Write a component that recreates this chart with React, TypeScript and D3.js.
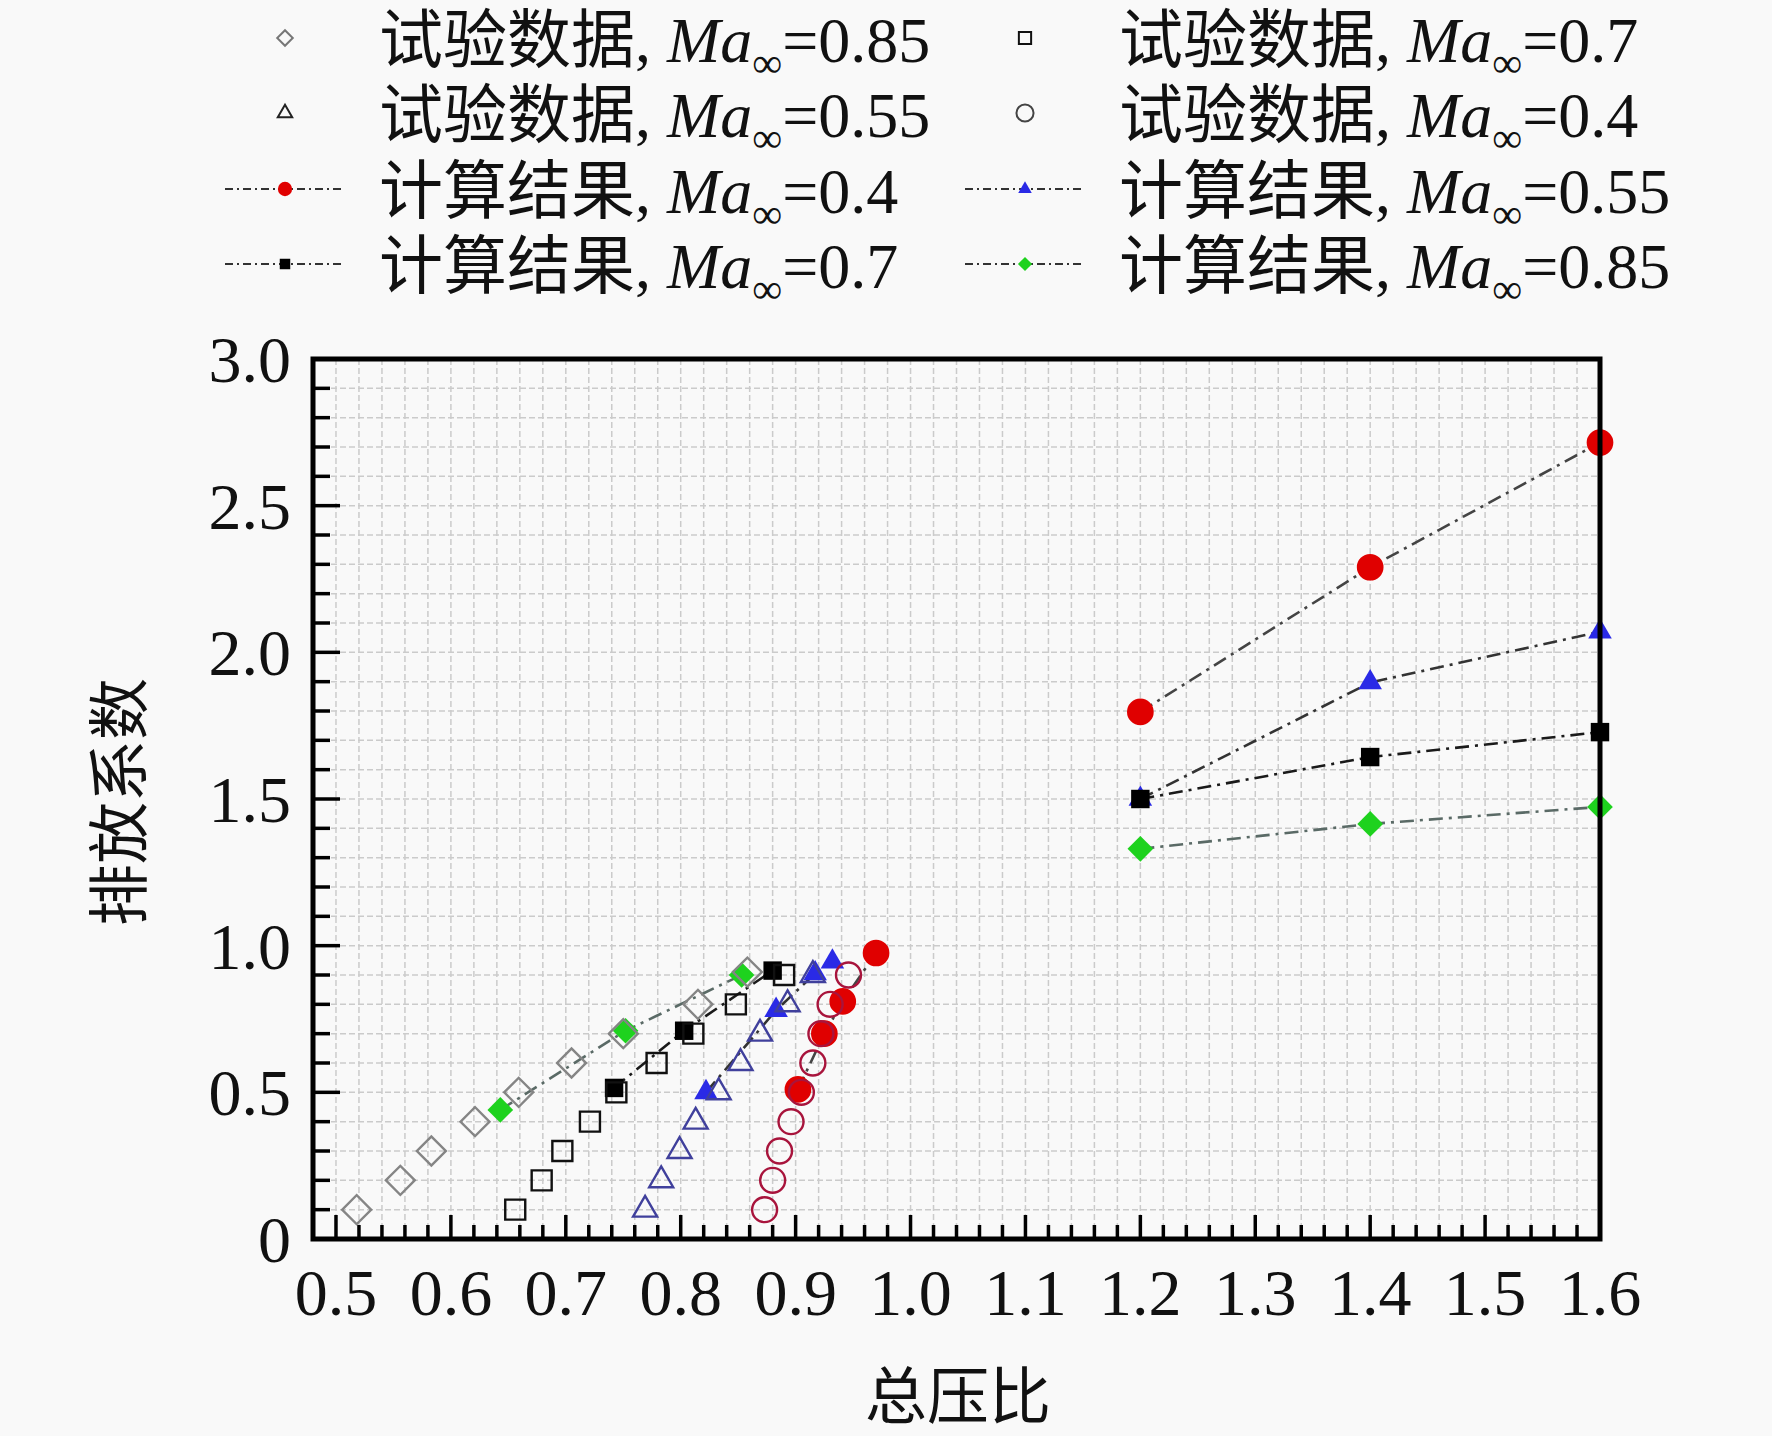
import * as d3 from 'd3';

// 总压比 vs 排放系数
const xTicks = [0.5, 0.6, 0.7, 0.8, 0.9, 1.0, 1.1, 1.2, 1.3, 1.4, 1.5, 1.6];
const xTickLabels = ['0.5', '0.6', '0.7', '0.8', '0.9', '1.0', '1.1', '1.2', '1.3', '1.4', '1.5', '1.6'];
const yTicks = [0, 0.5, 1.0, 1.5, 2.0, 2.5, 3.0];
const yTickLabels = ['0', '0.5', '1.0', '1.5', '2.0', '2.5', '3.0'];

// 试验数据 [总压比, 排放系数]
const expMa085: [number, number][] = [
  [0.518, 0.1], [0.556, 0.2], [0.583, 0.3], [0.621, 0.4], [0.659, 0.5],
  [0.705, 0.6], [0.75, 0.7], [0.815, 0.8], [0.858, 0.91],
];
const expMa07: [number, number][] = [
  [0.656, 0.1], [0.679, 0.2], [0.697, 0.3], [0.721, 0.4], [0.744, 0.5],
  [0.779, 0.6], [0.811, 0.7], [0.848, 0.8], [0.89, 0.9],
];
const expMa055: [number, number][] = [
  [0.769, 0.1], [0.783, 0.2], [0.799, 0.3], [0.813, 0.4], [0.833, 0.5],
  [0.852, 0.6], [0.869, 0.7], [0.893, 0.8], [0.915, 0.9],
];
const expMa04: [number, number][] = [
  [0.873, 0.1], [0.88, 0.2], [0.886, 0.3], [0.896, 0.4], [0.905, 0.5],
  [0.915, 0.6], [0.922, 0.7], [0.93, 0.8], [0.946, 0.9],
];

// 计算结果: two groups each (low and high pressure ratio)
const calcMa04: [number, number][][] = [
  [[0.902, 0.51], [0.925, 0.7], [0.941, 0.81], [0.97, 0.975]],
  [[1.2, 1.797], [1.4, 2.29], [1.6, 2.715]],
];
const calcMa055: [number, number][][] = [
  [[0.822, 0.5], [0.883, 0.78], [0.917, 0.905], [0.932, 0.945]],
  [[1.2, 1.5], [1.4, 1.897], [1.6, 2.07]],
];
const calcMa07: [number, number][][] = [
  [[0.742, 0.515], [0.803, 0.71], [0.88, 0.915]],
  [[1.2, 1.5], [1.4, 1.643], [1.6, 1.728]],
];
const calcMa085: [number, number][][] = [
  [[0.643, 0.44], [0.752, 0.71], [0.853, 0.9]],
  [[1.2, 1.33], [1.4, 1.415], [1.6, 1.473]],
];

type Shape = 'circle' | 'square' | 'triangle' | 'diamond';

const W = 1772;
const H = 1436;
const margin = { left: 313, right: 172, top: 359, bottom: 197 };
const serif = '"Liberation Serif", "Times New Roman", serif';
const cjk = '"Noto Sans CJK SC", "Noto Sans CJK JP", sans-serif';
const dashDot = '14 6 3 6';

function symbolPath(shape: Shape, size: number) {
  const type =
    shape === 'circle' ? d3.symbolCircle :
    shape === 'triangle' ? d3.symbolTriangle : d3.symbolSquare;
  return d3.symbol().type(type).size(size)() || '';
}

function Marker({ shape, size, x, y, fill, stroke, sw }: {
  shape: Shape; size: number; x: number; y: number; fill: string; stroke: string; sw: number;
}) {
  const rot = shape === 'diamond' ? ' rotate(45)' : '';
  return (
    <path
      d={symbolPath(shape, size)}
      transform={`translate(${x},${y})${rot}`}
      fill={fill}
      stroke={stroke}
      strokeWidth={sw}
    />
  );
}

const expSeries = [
  { data: expMa085, shape: 'diamond' as Shape, size: 420, stroke: '#858585', fill: 'none' },
  { data: expMa07, shape: 'square' as Shape, size: 400, stroke: '#111', fill: 'none' },
  { data: expMa055, shape: 'triangle' as Shape, size: 250, stroke: '#40409c', fill: 'none' },
  { data: expMa04, shape: 'circle' as Shape, size: 490, stroke: '#a8143c', fill: 'none' },
];

// drawing order: triangles under squares at 1.2
const calcSeries = [
  { groups: calcMa055, shape: 'triangle' as Shape, size: 240, fill: '#2a2ae6', line: '#333' },
  { groups: calcMa085, shape: 'diamond' as Shape, size: 330, fill: '#1ed21e', line: '#5a6a66' },
  { groups: calcMa07, shape: 'square' as Shape, size: 340, fill: '#000', line: '#1a1a1a' },
  { groups: calcMa04, shape: 'circle' as Shape, size: 560, fill: '#e00000', line: '#444' },
];

const legendItems = [
  { label: '试验数据', ma: '0.85', shape: 'diamond' as Shape, size: 120, fill: 'none', stroke: '#777', line: false, col: 0, row: 0 },
  { label: '试验数据', ma: '0.7', shape: 'square' as Shape, size: 150, fill: 'none', stroke: '#111', line: false, col: 1, row: 0 },
  { label: '试验数据', ma: '0.55', shape: 'triangle' as Shape, size: 90, fill: 'none', stroke: '#222', line: false, col: 0, row: 1 },
  { label: '试验数据', ma: '0.4', shape: 'circle' as Shape, size: 230, fill: 'none', stroke: '#444', line: false, col: 1, row: 1 },
  { label: '计算结果', ma: '0.4', shape: 'circle' as Shape, size: 160, fill: '#e00000', stroke: 'none', line: true, col: 0, row: 2 },
  { label: '计算结果', ma: '0.55', shape: 'triangle' as Shape, size: 80, fill: '#2a2ae6', stroke: 'none', line: true, col: 1, row: 2 },
  { label: '计算结果', ma: '0.7', shape: 'square' as Shape, size: 110, fill: '#000', stroke: 'none', line: true, col: 0, row: 3 },
  { label: '计算结果', ma: '0.85', shape: 'diamond' as Shape, size: 100, fill: '#1ed21e', stroke: 'none', line: true, col: 1, row: 3 },
];

export default function App() {
  const left = margin.left;
  const right = W - margin.right;
  const top = margin.top;
  const bottom = H - margin.bottom;

  const x = d3.scaleLinear().domain([0.48, 1.6]).range([left, right]);
  const y = d3.scaleLinear().domain([0, 3]).range([bottom, top]);
  const line = d3.line<[number, number]>().x(d => x(d[0])).y(d => y(d[1]));

  const xMinor = d3.range(0, 57).map(i => 0.48 + i * 0.02);
  const yMinor = d3.range(0, 31).map(i => i * 0.1);

  const colX = [285, 1025];
  const textX = [379, 1119];
  const rowY = [38, 113, 189, 264];

  return (
    <svg width={W} height={H} style={{ position: 'absolute', left: 0, top: 0, background: '#f9f9f9' }}>
      <rect x={0} y={0} width={W} height={H} fill="#f9f9f9" />

      {/* grid */}
      <g stroke="#cbcbcb" strokeWidth={1.5} strokeDasharray="6 3">
        {xMinor.slice(1, -1).map((v, i) => (
          <line key={'gx' + i} x1={x(v)} x2={x(v)} y1={top} y2={bottom} />
        ))}
        {yMinor.slice(1, -1).map((v, i) => (
          <line key={'gy' + i} x1={left} x2={right} y1={y(v)} y2={y(v)} />
        ))}
      </g>

      {/* computed lines */}
      {calcSeries.map((s, i) => (
        <g key={'cl' + i}>
          {s.groups.map((g, j) => (
            <path key={j} d={line(g) || ''} fill="none" stroke={s.line} strokeWidth={2.6} strokeDasharray={dashDot} />
          ))}
        </g>
      ))}

      {/* computed markers */}
      {calcSeries.map((s, i) => (
        <g key={'cm' + i}>
          {s.groups.flat().map((d, j) => (
            <Marker key={j} shape={s.shape} size={s.size} x={x(d[0])} y={y(d[1])} fill={s.fill} stroke="none" sw={0} />
          ))}
        </g>
      ))}

      {/* experimental markers */}
      {expSeries.map((s, i) => (
        <g key={'em' + i}>
          {s.data.map((d, j) => (
            <Marker key={j} shape={s.shape} size={s.size} x={x(d[0])} y={y(d[1])} fill={s.fill} stroke={s.stroke} sw={2.4} />
          ))}
        </g>
      ))}

      {/* frame */}
      <rect x={left} y={top} width={right - left} height={bottom - top} fill="none" stroke="#000" strokeWidth={5} />

      {/* ticks */}
      <g stroke="#000" strokeWidth={3.5}>
        {xMinor.map((v, i) => {
          const major = xTicks.some(t => Math.abs(t - v) < 1e-6);
          return <line key={'tx' + i} x1={x(v)} x2={x(v)} y1={bottom} y2={bottom - (major ? 24 : 14)} />;
        })}
        {yMinor.map((v, i) => {
          const major = yTicks.some(t => Math.abs(t - v) < 1e-6);
          return <line key={'ty' + i} x1={left} x2={left + (major ? 27 : 17)} y1={y(v)} y2={y(v)} />;
        })}
      </g>

      {/* tick labels */}
      <g fontFamily={serif} fontSize={66} fill="#111">
        {xTicks.map((v, i) => (
          <text key={'lx' + i} x={x(v)} y={1315} textAnchor="middle">{xTickLabels[i]}</text>
        ))}
        {yTicks.map((v, i) => (
          <text key={'ly' + i} x={291} y={y(v) + 23} textAnchor="end">{yTickLabels[i]}</text>
        ))}
      </g>

      {/* axis titles */}
      <text x={958} y={1419} textAnchor="middle" fontFamily={cjk} fontSize={62} fill="#111">总压比</text>
      <text transform="translate(142,802) rotate(-90)" textAnchor="middle" fontFamily={cjk} fontSize={62} fill="#111">排放系数</text>

      {/* legend */}
      {legendItems.map((it, i) => {
        const cx = colX[it.col];
        const cy = rowY[it.row];
        return (
          <g key={'lg' + i}>
            {it.line && (
              <line x1={cx - 60} x2={cx + 60} y1={cy} y2={cy} stroke="#333" strokeWidth={2} strokeDasharray="8 4 2 4" />
            )}
            <Marker shape={it.shape} size={it.size} x={cx} y={cy} fill={it.fill} stroke={it.stroke} sw={2} />
            <text x={textX[it.col]} y={cy + 24} fontSize={64} fill="#111">
              <tspan fontFamily={cjk}>{it.label}</tspan>
              <tspan fontFamily={serif}>, </tspan>
              <tspan fontFamily={serif} fontStyle="italic">Ma</tspan>
              <tspan fontFamily={serif} fontSize={42} dy={15}>∞</tspan>
              <tspan fontFamily={serif} dy={-15}>={it.ma}</tspan>
            </text>
          </g>
        );
      })}
    </svg>
  );
}
